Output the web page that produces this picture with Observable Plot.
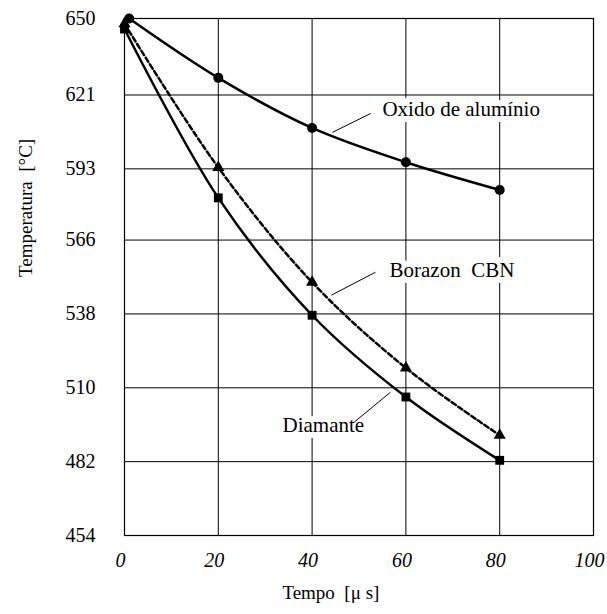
<!DOCTYPE html>
<html><head><meta charset="utf-8">
<script src="https://cdn.jsdelivr.net/npm/d3@7"></script>
<script src="https://cdn.jsdelivr.net/npm/@observablehq/plot@0.6"></script>
<style>
body{margin:0;background:#fff;}
svg text{font-family:'Liberation Serif','Times New Roman',serif !important;}
</style>
</head><body><div id="chart"></div>
<script>
// Data
const tempo = [0, 20, 40, 60, 80];
const oxidoTempo = [1, 20, 40, 60, 80];
const oxido = [650, 627.5, 608.5, 595.5, 585];
const borazon = [648, 593.5, 550, 517.5, 492];
const diamante = [646, 582, 537.5, 506.5, 482.5];
const xTicks = [0, 20, 40, 60, 80, 100];
const yTicks = [454, 482, 510, 538, 566, 593, 621, 650];

// Annotations (data coordinates)
const labelText = ["Oxido de alumínio", "Borazon  CBN", "Diamante"];
const labelX = [55, 56.5, 33.7];
const labelY = [615.5, 554.5, 495.8];
const leadX1 = [52.5, 53.5, 49];
const leadY1 = [614, 553.8, 497];
const leadX2 = [44.3, 44.1, 56.7];
const leadY2 = [606.8, 545.1, 508.3];

const series = (xs, ys) => xs.map((x, i) => ({x, y: ys[i]}));
const oxData = series(oxidoTempo, oxido);
const boData = series(tempo, borazon);
const diData = series(tempo, diamante);
const labels = labelText.map((t, i) => ({t, x: labelX[i], y: labelY[i]}));
const leaders = labelText.map((t, i) => ({x1: leadX1[i], y1: leadY1[i], x2: leadX2[i], y2: leadY2[i]}));

const font = "'Liberation Serif', 'Times New Roman', serif";

const chart = Plot.plot({
  width: 607,
  height: 614,
  marginLeft: 124,
  marginRight: 14,
  marginTop: 18,
  marginBottom: 79,
  style: {fontFamily: font, background: "#fff", color: "#000"},
  x: {domain: [0, 100], axis: null},
  y: {domain: [454, 650]},
  marks: [
    Plot.gridX(xTicks, {stroke: "#000", strokeOpacity: 1, strokeWidth: 1}),
    Plot.gridY(yTicks, {stroke: "#000", strokeOpacity: 1, strokeWidth: 1}),
    Plot.frame({stroke: "#000", strokeWidth: 1.2}),
    Plot.text(xTicks, {x: d => d, text: d => String(d), frameAnchor: "bottom", dy: 31, dx: -4, fontSize: 20, fontStyle: "italic"}),
    Plot.axisY(yTicks, {tickSize: 0, tickPadding: 29, fontSize: 20, label: null}),
    Plot.text(["Tempo  [μ s]"], {x: 44, frameAnchor: "bottom", dy: 63, fontSize: 19}),
    Plot.text(["Temperatura  [°C]"], {frameAnchor: "left", rotate: -90, dx: -99, fontSize: 19}),
    Plot.text(labels, {x: "x", y: "y", text: "t", textAnchor: "start", fontSize: 21, fill: "#000", stroke: "#fff", strokeWidth: 12, strokeLinejoin: "round", paintOrder: "stroke"}),
    Plot.link(leaders, {x1: "x1", y1: "y1", x2: "x2", y2: "y2", stroke: "#000", strokeWidth: 1}),
    Plot.line(oxData, {x: "x", y: "y", curve: "catmull-rom", stroke: "#000", strokeWidth: 2.5}),
    Plot.line(boData, {x: "x", y: "y", curve: "catmull-rom", stroke: "#000", strokeWidth: 2.5, strokeDasharray: "5,3"}),
    Plot.line(diData, {x: "x", y: "y", curve: "catmull-rom", stroke: "#000", strokeWidth: 2.5}),
    Plot.dot(oxData, {x: "x", y: "y", r: 5, symbol: "circle", fill: "#000"}),
    Plot.dot(boData, {x: "x", y: "y", r: 4.5, symbol: "triangle", fill: "#000"}),
    Plot.dot(diData, {x: "x", y: "y", r: 5, symbol: "square", fill: "#000"})
  ]
});
document.getElementById("chart").appendChild(chart);
</script>
</body></html>
